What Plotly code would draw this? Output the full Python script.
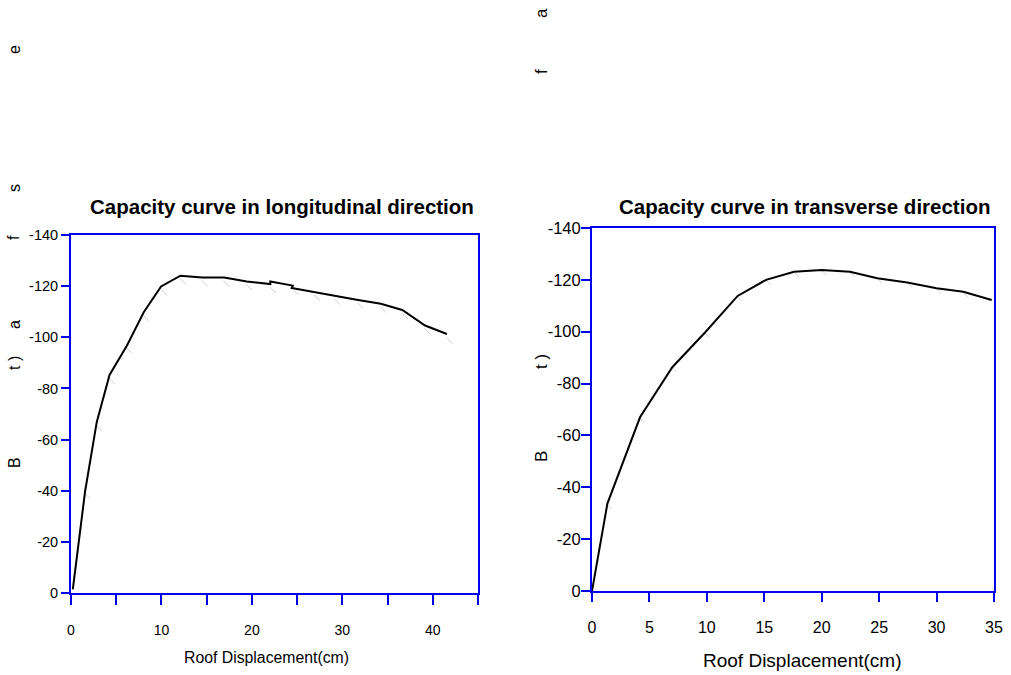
import plotly.graph_objects as go

# ---- data ----
long_disp = [0.2, 1.56, 2.85, 4.26, 6.19, 8.04, 9.96, 12.1, 14.5, 16.93, 19.44, 22.04, 22.04,
             24.52, 24.4, 26.93, 29.15, 31.74, 34.26, 36.63, 39.15, 41.56]
long_shear = [-1.4, -39.8, -66.9, -85.3, -96.8, -109.8, -119.9, -124.1, -123.4, -123.4, -121.8,
              -120.8, -121.8, -120.2, -119.3, -117.6, -116.3, -114.6, -113.1, -110.7, -104.6, -101.3]

long_ref_disp = [1.8, 3.1, 4.5, 6.4, 8.3, 10.3, 12.4, 14.8, 17.2, 19.7, 22.3, 24.8, 27.2,
                 29.4, 32.0, 34.5, 36.9, 39.4, 41.9]
long_ref_shear = [-38.0, -64.5, -83.0, -95.0, -107.5, -117.5, -121.8, -121.0, -121.0, -119.6,
                  -118.6, -117.8, -115.4, -114.0, -112.3, -110.8, -108.3, -102.3, -98.5]

trans_disp = [0.0, 1.34, 4.18, 6.99, 9.84, 12.68, 15.15, 17.59, 19.99, 22.46, 24.84, 27.45,
              30.0, 32.33, 34.8]
trans_shear = [0.0, -33.7, -67.0, -86.3, -99.7, -113.8, -120.0, -123.1, -123.8, -123.1,
               -120.6, -119.0, -116.8, -115.4, -112.2]

trans_ref_disp = [1.5, 4.35, 7.15, 10.0, 12.85, 15.35, 17.8, 20.2, 22.65, 25.05, 27.65,
                  30.2, 32.5]
trans_ref_shear = [-32.5, -66.0, -85.3, -98.7, -112.8, -119.0, -122.1, -122.8, -122.1,
                   -119.6, -118.0, -115.8, -114.4]

long_xticks = [0, 5, 10, 15, 20, 25, 30, 35, 40, 45]
long_xlabels = ["0", "", "10", "", "20", "", "30", "", "40", ""]
trans_xticks = [0, 5, 10, 15, 20, 25, 30, 35]
trans_xlabels = ["0", "5", "10", "15", "20", "25", "30", "35"]
y_ticks = [0, -20, -40, -60, -80, -100, -120, -140]
y_labels = ["0", "-20", "-40", "-60", "-80", "-100", "-120", "-140"]

titles = ["Capacity curve in longitudinal direction", "Capacity curve in transverse direction"]
x_title = "Roof Displacement(cm)"
stray_left = [("e", 50), ("s", 188), ("f", 238), ("a", 325), ("t )", 363), ("B", 463)]
stray_right = [("a", 13), ("f", 72), ("t )", 362), ("B", 457)]

# ---- figure ----
W, H = 1011, 675
FONT = "Liberation Sans, Arial, sans-serif"
BLUE = "#0000ee"

fig = go.Figure()

fig.add_trace(go.Scatter(x=long_ref_disp, y=long_ref_shear, mode="markers",
                         marker=dict(symbol="line-nw", size=6, line=dict(color="#d0d0d0", width=1)),
                         xaxis="x", yaxis="y", showlegend=False, hoverinfo="skip"))
fig.add_trace(go.Scatter(x=long_disp, y=long_shear, mode="lines",
                         line=dict(color="black", width=2),
                         xaxis="x", yaxis="y", showlegend=False))
fig.add_trace(go.Scatter(x=trans_ref_disp, y=trans_ref_shear, mode="markers",
                         marker=dict(symbol="line-nw", size=5, line=dict(color="#d0d0d0", width=1)),
                         xaxis="x2", yaxis="y2", showlegend=False, hoverinfo="skip"))
fig.add_trace(go.Scatter(x=trans_disp, y=trans_shear, mode="lines",
                         line=dict(color="black", width=2),
                         xaxis="x2", yaxis="y2", showlegend=False))

def px_x(p):
    return p / W

def px_y(p):
    return (H - p) / H

common_axis = dict(showgrid=False, zeroline=False, showline=True, linecolor=BLUE, linewidth=2,
                   mirror=True, ticks="outside", tickcolor=BLUE, tickwidth=2,
                   color="black", automargin=False, tickmode="array")

fig.update_layout(
    width=W, height=H, margin=dict(l=0, r=0, t=0, b=0, autoexpand=False),
    paper_bgcolor="white", plot_bgcolor="white",
    font=dict(family=FONT, color="black"),
    xaxis=dict(domain=[px_x(71), px_x(478)], range=[0, 45], anchor="y",
               tickvals=long_xticks, ticktext=long_xlabels,
               ticklen=10, ticklabelstandoff=13, tickfont=dict(size=14), **common_axis),
    yaxis=dict(domain=[px_y(593), px_y(235)], range=[0, -140], anchor="x",
               tickvals=y_ticks, ticktext=y_labels, ticklen=8, ticklabelstandoff=0,
               tickfont=dict(size=14.5), **common_axis),
    xaxis2=dict(domain=[px_x(592), px_x(994)], range=[0, 35], anchor="y2",
                tickvals=trans_xticks, ticktext=trans_xlabels,
                ticklen=9, ticklabelstandoff=12, tickfont=dict(size=16), **common_axis),
    yaxis2=dict(domain=[px_y(591), px_y(228)], range=[0, -140], anchor="x2",
                tickvals=y_ticks, ticktext=y_labels, ticklen=9, ticklabelstandoff=-3,
                tickfont=dict(size=16.5), **common_axis),
)

ann = []
ann.append(dict(text="<b>%s</b>" % titles[0], x=px_x(282), y=px_y(206), xref="paper", yref="paper",
                showarrow=False, font=dict(size=20.5, family=FONT), xanchor="center", yanchor="middle"))
ann.append(dict(text="<b>%s</b>" % titles[1], x=px_x(804), y=px_y(206), xref="paper", yref="paper",
                showarrow=False, font=dict(size=20.5, family=FONT), xanchor="center", yanchor="middle"))
ann.append(dict(text=x_title, x=px_x(266), y=px_y(657), xref="paper", yref="paper",
                showarrow=False, font=dict(size=15.8, family=FONT), xanchor="center", yanchor="middle"))
ann.append(dict(text=x_title, x=px_x(802), y=px_y(660), xref="paper", yref="paper",
                showarrow=False, font=dict(size=19, family=FONT), xanchor="center", yanchor="middle"))
for t, yy in stray_left:
    ann.append(dict(text=t, x=px_x(14), y=px_y(yy), xref="paper", yref="paper", showarrow=False,
                    textangle=-90, font=dict(size=16, family=FONT), xanchor="center", yanchor="middle"))
for t, yy in stray_right:
    ann.append(dict(text=t, x=px_x(541), y=px_y(yy), xref="paper", yref="paper", showarrow=False,
                    textangle=-90, font=dict(size=17, family=FONT), xanchor="center", yanchor="middle"))
fig.update_layout(annotations=ann)

fig.write_html("out.html", config={"displayModeBar": False},
               post_script="document.body.style.margin='0';document.body.style.overflow='hidden';")
